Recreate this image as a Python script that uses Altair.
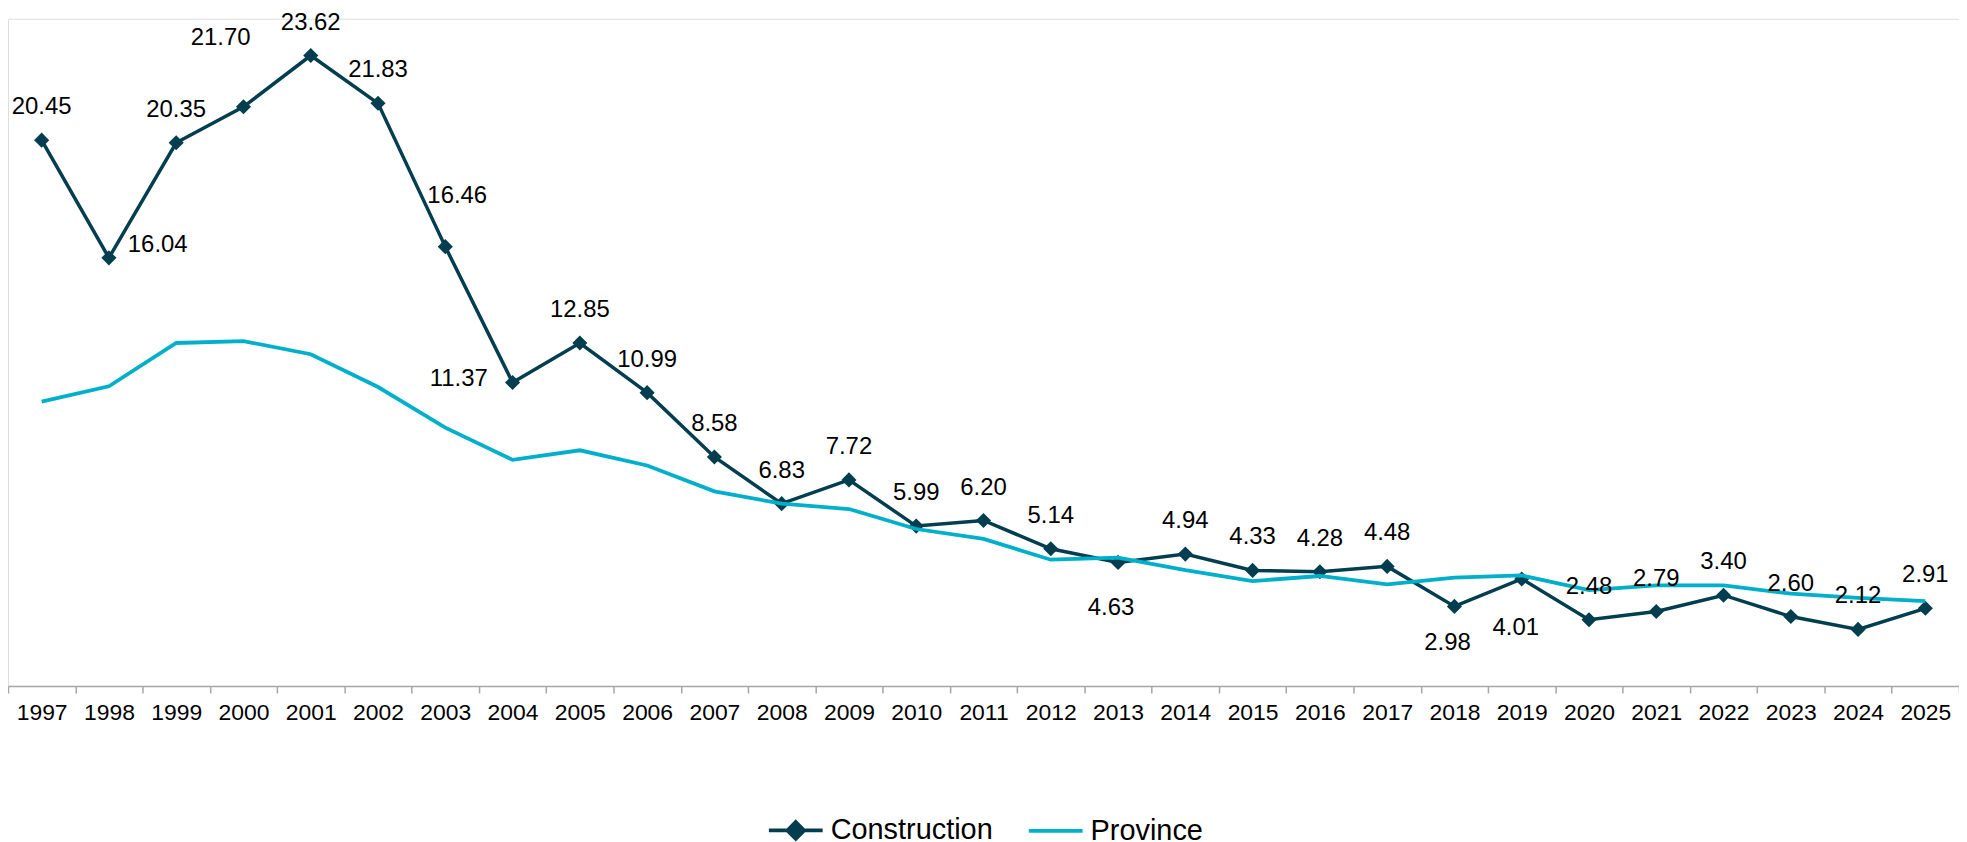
import altair as alt
import pandas as pd

years = ["1997", "1998", "1999", "2000", "2001", "2002", "2003", "2004", "2005", "2006",
         "2007", "2008", "2009", "2010", "2011", "2012", "2013", "2014", "2015", "2016",
         "2017", "2018", "2019", "2020", "2021", "2022", "2023", "2024", "2025"]
construction = [20.45, 16.04, 20.35, 21.70, 23.62, 21.83, 16.46, 11.37, 12.85, 10.99,
                8.58, 6.83, 7.72, 5.99, 6.20, 5.14, 4.63, 4.94, 4.33, 4.28,
                4.48, 2.98, 4.01, 2.48, 2.79, 3.40, 2.60, 2.12, 2.91]
province = [10.65, 11.23, 12.85, 12.92, 12.43, 11.20, 9.68, 8.47, 8.83, 8.26,
            7.29, 6.83, 6.63, 5.88, 5.51, 4.73, 4.81, 4.34, 3.93, 4.12,
            3.81, 4.06, 4.14, 3.59, 3.77, 3.77, 3.46, 3.30, 3.18]
series_names = ["Construction", "Province"]

C_DARK = "#023E4F"
C_CYAN = "#00AFCA"
FONT = "Liberation Sans, Arial, sans-serif"

df = pd.DataFrame({
    "year": years * 2,
    "series": ["Construction"] * len(years) + ["Province"] * len(years),
    "value": construction + province,
})
legend_df = pd.DataFrame({"series": series_names})

# label placement (style): default above; some moved as in the original
label_offsets = {
    "1998": (49, -13),
    "2000": (-23, -69),
    "2003": (12, -51),
    "2004": (-54, -3),
    "2013": (-7, 46),
    "2018": (-7, 37),
    "2019": (-6, 49),
}
DEFAULT_OFFSET = (0, -33)

x_enc = alt.X(
    "year:O",
    sort=years,
    bandPosition=0.5,
    scale=alt.Scale(type="band", domain=years, paddingInner=0, paddingOuter=0),
    axis=alt.Axis(
        title=None, labelAngle=0, tickBand="extent", grid=False,
        domainColor="#A6A6A6", domainWidth=1.5, tickColor="#A6A6A6", tickWidth=1.5,
        tickSize=7, labelPadding=9, labelFontSize=23, labelColor="#000000",
        labelFont=FONT, labelOverlap=False,
    ),
)
y_enc = alt.Y("value:Q", scale=alt.Scale(domain=[0, 25], nice=False, zero=True), axis=None)

base = alt.Chart(df).encode(x=x_enc, y=y_enc)

cons = base.transform_filter(alt.datum.series == "Construction")
prov = base.transform_filter(alt.datum.series == "Province")

cons_line = cons.mark_line(color=C_DARK, strokeWidth=3.5)
cons_pts = cons.mark_point(shape="diamond", filled=True, size=230, color=C_DARK, opacity=1)
prov_line = prov.mark_line(color=C_CYAN, strokeWidth=3.8)

layers = [cons_line, cons_pts, prov_line]

special_years = list(label_offsets.keys())
default_years = [y for y in years if y not in special_years]
groups = [(DEFAULT_OFFSET, default_years)] + [(off, [y]) for y, off in label_offsets.items()]
for (dx, dy), yrs in groups:
    layers.append(
        cons.transform_filter(alt.FieldOneOfPredicate(field="year", oneOf=yrs))
        .mark_text(dx=dx, dy=dy, fontSize=24, font=FONT, color="#000000", baseline="middle", align="center")
        .encode(text=alt.Text("value:Q", format=".2f"))
    )

paths = [
    "M-1,0L1,0M0,-0.31L0.31,0L0,0.31L-0.31,0Z",
    "M-1,0L1,0",
]
legend = alt.Legend(
    title=None, orient="none", direction="horizontal", legendX=762, legendY=786,
    labelFontSize=29, labelFont=FONT, labelColor="#000000", labelLimit=0,
    symbolSize=2916, symbolStrokeWidth=3.8, symbolOpacity=1, labelOffset=6,
    columnPadding=28, padding=0,
)
legend_layer = alt.Chart(legend_df).mark_point(filled=True, opacity=0, strokeWidth=3.8).encode(
    fill=alt.Fill("series:N", scale=alt.Scale(domain=series_names, range=[C_DARK, C_CYAN]), legend=legend),
    stroke=alt.Stroke("series:N", scale=alt.Scale(domain=series_names, range=[C_DARK, C_CYAN]), legend=legend),
    shape=alt.Shape("series:N", scale=alt.Scale(domain=series_names, range=paths), legend=legend),
)
layers.append(legend_layer)

chart = alt.layer(*layers).properties(
    width=1959, height=670,
    padding={"left": 0, "top": 9, "right": 0, "bottom": 170},
    autosize=alt.AutoSizeParams(type="none"),
).configure_view(stroke=None).configure(background="#FFFFFF")

chart.save("out.html", embed_options={"renderer": "svg", "actions": False})
